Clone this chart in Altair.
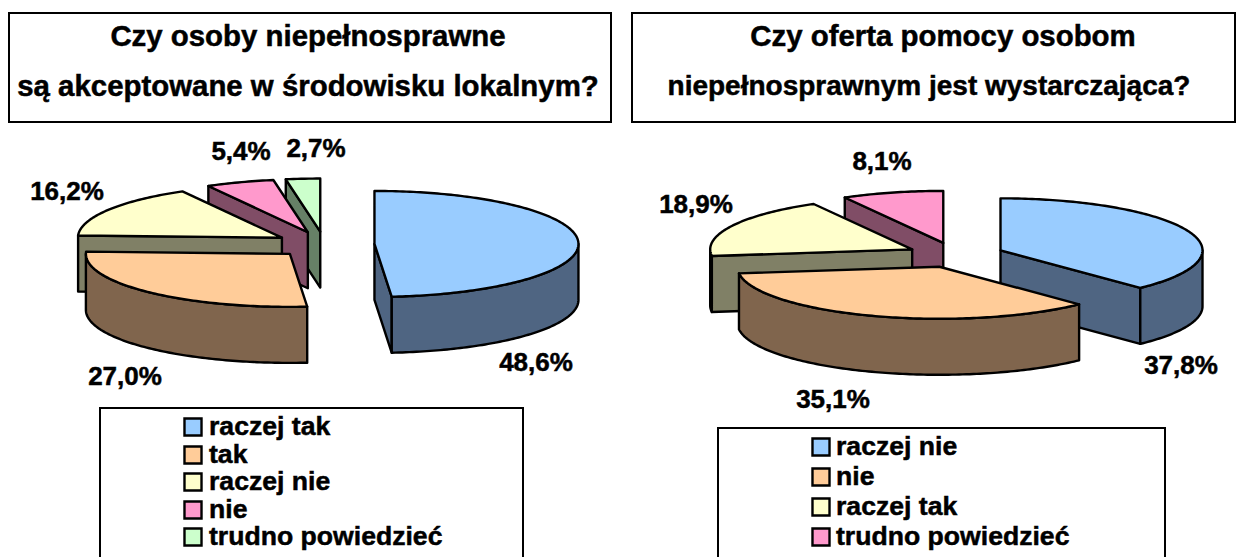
import math
import altair as alt
import pandas as pd

# ---- data ----
titles_left = ["Czy osoby niepełnosprawne", "są akceptowane w środowisku lokalnym?"]
titles_right = ["Czy oferta pomocy osobom", "niepełnosprawnym jest wystarczająca?"]
cats_left = ["raczej tak", "tak", "raczej nie", "nie", "trudno powiedzieć"]
vals_left = [48.6, 27.0, 16.2, 5.4, 2.7]
cats_right = ["raczej nie", "nie", "raczej tak", "trudno powiedzieć"]
vals_right = [37.8, 35.1, 18.9, 8.1]
top_colors_left = ["#99CCFF", "#FFCC99", "#FFFFCC", "#FF99CC", "#CCFFCC"]
side_colors_left = ["#4F6582", "#80654D", "#808066", "#804D66", "#668066"]
top_colors_right = top_colors_left[:4]
side_colors_right = side_colors_left[:4]

# ---- layout ----
W, H = 1228, 549
FONT = "Liberation Sans"
X = dict(scale=alt.Scale(domain=[8, 8 + W], range=[0, W]), axis=None)
Y = dict(scale=alt.Scale(domain=[8, 8 + H], range=[0, H]), axis=None)


def ex(f):
    return alt.X(f, title=None, **X)


def ey(f):
    return alt.Y(f, title=None, **Y)


def polygon(points, fill):
    df = pd.DataFrame([{"px": p[0], "py": p[1], "i": i} for i, p in enumerate(points)])
    return alt.Chart(df).mark_line(
        fill=fill, stroke="black", strokeWidth=2.4, interpolate="linear-closed", strokeJoin="round"
    ).encode(x=ex("px:Q"), y=ey("py:Q"), order=alt.Order("i:Q"))


def pie_layers(vals, tops, sides, C, explode, rx, ry, depth, draw_order):
    total = sum(vals)
    layers = []
    spans = []
    a = 0.0
    for v in vals:
        b = a + 360.0 * v / total
        spans.append((a, b))
        a = b

    for k in draw_order:
        a0, a1 = spans[k]
        mid = math.radians((a0 + a1) / 2)
        cx = C[0] + explode * math.sin(mid)
        cy = C[1] - explode * ry / rx * math.cos(mid)

        def pt(deg, dz=0):
            r = math.radians(deg)
            return (cx + rx * math.sin(r), cy - ry * math.cos(r) + dz)

        def arc(d0, d1, dz=0):
            n = max(2, int(abs(d1 - d0)) + 1)
            return [pt(d0 + (d1 - d0) * j / (n - 1), dz) for j in range(n)]

        # visible radial walls
        if math.sin(math.radians(a0)) < 0:
            layers.append(polygon([(cx, cy), pt(a0), pt(a0, depth), (cx, cy + depth)], sides[k]))
        if math.sin(math.radians(a1)) > 0:
            layers.append(polygon([(cx, cy), pt(a1), pt(a1, depth), (cx, cy + depth)], sides[k]))
        # outer wall (front half only)
        w0, w1 = max(a0, 90), min(a1, 270)
        if w1 > w0:
            layers.append(polygon(arc(w0, w1) + arc(w1, w0, depth), sides[k]))
        # top face
        layers.append(polygon([(cx, cy)] + arc(a0, a1), tops[k]))
    return layers


def box(x0, y0, x1, y1):
    df = pd.DataFrame([{"a": x0, "b": y0, "c": x1, "d": y1}])
    return alt.Chart(df).mark_rect(fill="white", stroke="black", strokeWidth=2, clip=True).encode(
        x=ex("a:Q"), x2="c:Q", y=ey("b:Q"), y2="d:Q"
    )


def texts(rows, align="center", size=26):
    df = pd.DataFrame(rows, columns=["t", "px", "py"])
    return alt.Chart(df).mark_text(
        font=FONT, fontWeight="bold", fontSize=size, align=align, baseline="middle", color="black",
        stroke="black", strokeWidth=0.5
    ).encode(x=ex("px:Q"), y=ey("py:Q"), text="t:N")


def swatches(colors, x, ys):
    df = pd.DataFrame({"px": [x] * len(ys), "py": ys, "c": colors})
    return alt.Chart(df).mark_square(size=290, stroke="black", strokeWidth=2.4, opacity=1).encode(
        x=ex("px:Q"), y=ey("py:Q"), fill=alt.Fill("c:N", scale=None)
    )


def pct(v):
    return f"{v:.1f}%".replace(".", ",")


layers = []
# title frames (the right edge of the second frame sits at the page's last drawable column)
layers += [box(9, 13, 611, 122), box(632, 13, 1235, 122)]
layers.append(texts([(titles_left[0], 308, 37), (titles_left[1], 308, 87),
                     (titles_right[0], 943, 37)], size=29.4))
layers.append(texts([(titles_right[1], 929, 87)], size=28))
# pies
layers += pie_layers(vals_left, top_colors_left, side_colors_left, (324.5, 244.5), 50, 204, 53, 56, [4, 3, 2, 0, 1])
layers += pie_layers(vals_right, top_colors_right, side_colors_right, (955.5, 255), 48.5, 202, 52, 56, [3, 2, 0, 1])
# data labels
pos_left = [(536, 363), (125, 377), (67, 192), (241, 152), (316, 149)]
pos_right = [(1181, 366), (833, 400), (696, 205), (882, 162)]
layers.append(texts([(pct(v), *p) for v, p in zip(vals_left, pos_left)]))
layers.append(texts([(pct(v), *p) for v, p in zip(vals_right, pos_right)]))
# legends
ys_left = [427, 455, 482, 510, 537]
ys_right = [447, 477, 507, 537]
layers += [box(100, 408, 523, 600), box(718, 428, 1165, 600)]
layers.append(swatches(top_colors_left, 193, ys_left))
layers.append(swatches(top_colors_right, 821, ys_right))
layers.append(texts([(c, 209, y) for c, y in zip(cats_left, ys_left)], align="left", size=26.6))
layers.append(texts([(c, 836, y) for c, y in zip(cats_right, ys_right)], align="left", size=26.6))

chart = alt.layer(*layers).properties(
    width=W, height=H, padding=0, autosize=alt.AutoSizeParams(type="none"), background="white"
).configure_view(stroke=None)

chart.save("out.html", embed_options={"renderer": "svg", "actions": False})
